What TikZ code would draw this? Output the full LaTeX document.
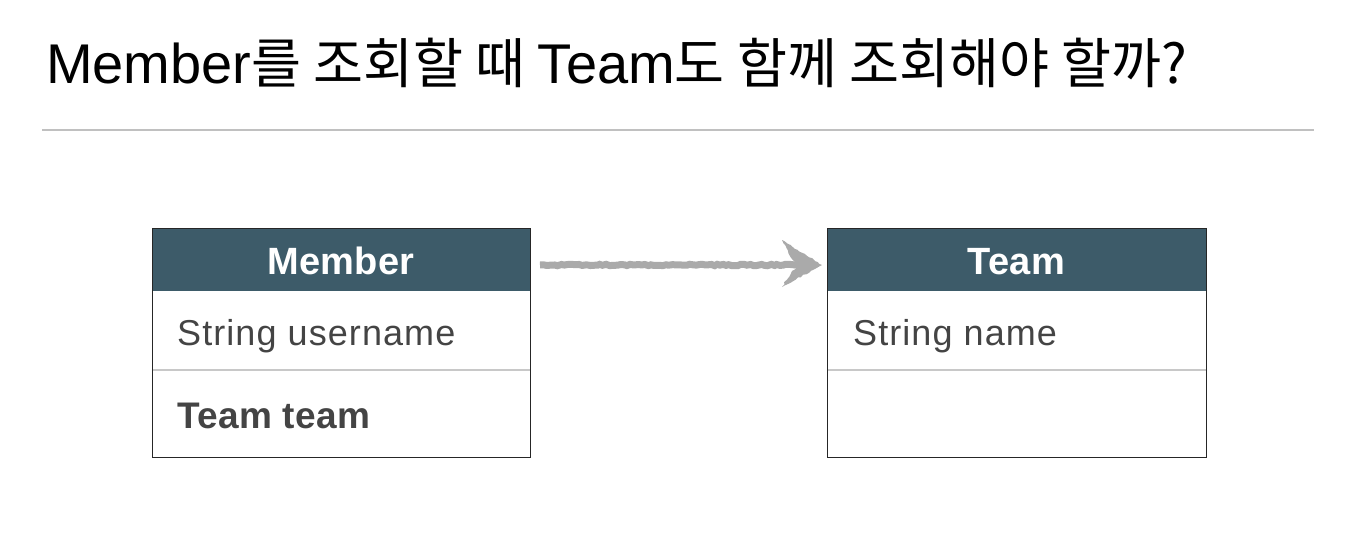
\documentclass[tikz,border=0pt]{standalone}
\usepackage{fontspec}
\setmainfont{Liberation Sans}
\newfontfamily\kr[Scale=0.97]{Noto Sans CJK KR}
\newfontfamily\helv{Liberation Sans}
\newfontfamily\boxfont[LetterSpace=3]{Liberation Sans}
\newfontfamily\boxbold[LetterSpace=1]{Liberation Sans}
\usetikzlibrary{decorations.pathmorphing}
\definecolor{hdrcol}{HTML}{3D5B69}
\definecolor{txtcol}{HTML}{444444}
\definecolor{divcol}{HTML}{C8C8C8}
\definecolor{rulecol}{HTML}{C0C0C0}
\definecolor{arrcol}{HTML}{AAAAAA}
\tikzset{
  hdrfill/.style={fill=hdrcol},
  border/.style={draw=black!85, line width=1pt},
  divider/.style={draw=divcol, line width=2pt},
  hdrtext/.style={anchor=base, text=white, font=\boxbold\bfseries\fontsize{38}{40}\selectfont, inner sep=0pt},
  rowtext/.style={anchor=base west, text=txtcol, font=\boxfont\fontsize{36}{40}\selectfont, inner sep=0pt},
  rowbold/.style={anchor=base west, text=txtcol, font=\boxbold\bfseries\fontsize{37}{40}\selectfont, inner sep=0pt},
  chalk/.style={draw=arrcol, line width=7pt, decorate, decoration={random steps, segment length=3pt, amplitude=0.7pt}},
}
\begin{document}
\begin{tikzpicture}[x=1pt,y=-1pt]
\useasboundingbox (0,0) rectangle (1346,542);
% title
\node[anchor=base west, inner sep=0pt, font=\fontsize{56}{60}\selectfont] (title) at (46,83)
  {{\helv Member}{\kr 를 조회할 때 }{\helv Team}{\kr 도 함께 조회해야 할까?}};
\draw[draw=rulecol, line width=1.5pt] (42,130) -- (1314,130);
% Member box
\fill[hdrfill] (152,228) rectangle (530,291);
\draw[divider] (152,370) -- (530,370);
\draw[border] (152,228) rectangle (530,457);
\node[hdrtext] (mhead) at (341,274) {Member};
\node[rowtext] (mr1) at (177,345) {String username};
\node[rowbold] (mr2) at (177,428) {Team team};
\coordinate (member) at (530,265);
% Team box
\fill[hdrfill] (827,228) rectangle (1206,291);
\draw[divider] (827,370) -- (1206,370);
\draw[border] (827,228) rectangle (1206,457);
\node[hdrtext] (thead) at (1016.5,274) {Team};
\node[rowtext] (tr1) at (853,345) {String name};
\coordinate (team) at (827,265);
% arrow
\coordinate (astart) at ([xshift=10pt]member);
\coordinate (aend) at ([xshift=-5pt]team);
\draw[chalk] (astart) -- ([xshift=-12pt]aend);
\fill[arrcol, decorate, decoration={random steps, segment length=3pt, amplitude=0.8pt}]
  (aend) -- ([xshift=-40pt,yshift=-22pt]aend) -- ([xshift=-30pt,yshift=-6pt]aend)
  -- ([xshift=-22pt]aend) -- ([xshift=-30pt,yshift=6pt]aend)
  -- ([xshift=-40pt,yshift=25pt]aend) -- cycle;
\end{tikzpicture}
\end{document}
